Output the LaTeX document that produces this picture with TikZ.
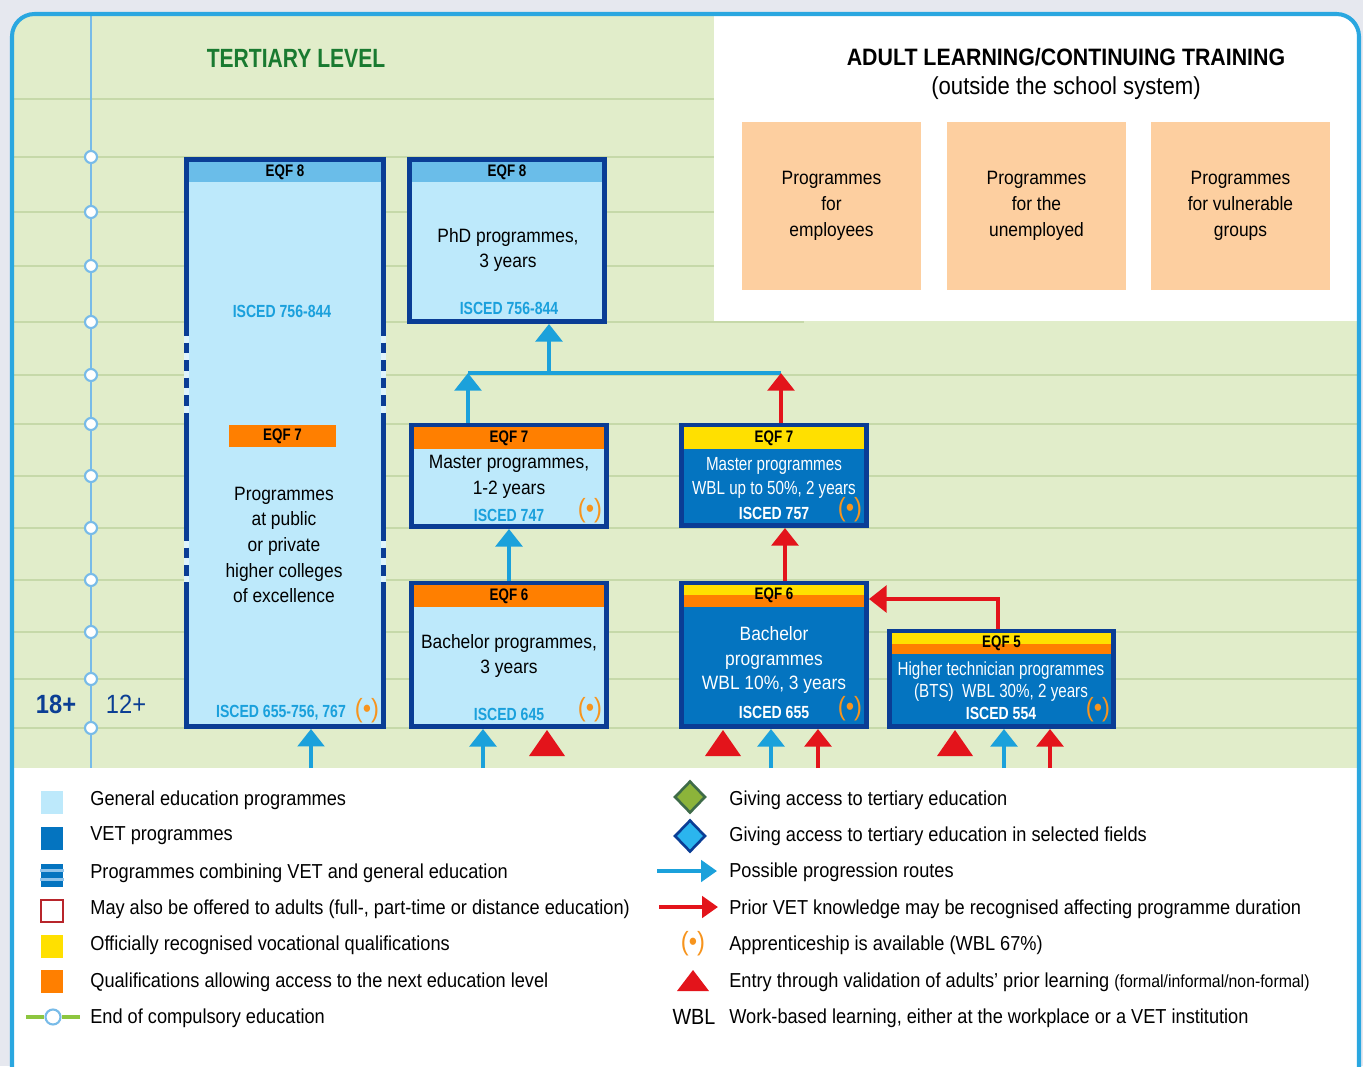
\documentclass[tikz,border=0pt]{standalone}
\usepackage{fontspec}
\setmainfont{Liberation Sans}[FakeStretch=0.9]
\newfontfamily\condfont{Liberation Sans}[FakeStretch=0.8]
\usetikzlibrary{arrows.meta}
\usetikzlibrary{shapes.geometric}
\definecolor{pagegray}{HTML}{E6E8EF}
\definecolor{framecyan}{HTML}{2AA7E0}
\definecolor{levelgreen}{HTML}{E1EDCA}
\definecolor{ruleline}{HTML}{C6D9A9}
\definecolor{axisblue}{HTML}{78BBE8}
\definecolor{edgeblue}{HTML}{0A3D95}
\definecolor{genlight}{HTML}{BDE9FB}
\definecolor{genband}{HTML}{6ABDE9}
\definecolor{vetblue}{HTML}{0474C0}
\definecolor{eqforange}{HTML}{FF7F00}
\definecolor{eqfyellow}{HTML}{FFE000}
\definecolor{iscedcyan}{HTML}{1AA0DC}
\definecolor{routeblue}{HTML}{1BA1DB}
\definecolor{priorred}{HTML}{E3141B}
\definecolor{approrange}{HTML}{F7941D}
\definecolor{adultpeach}{HTML}{FDCFA0}
\definecolor{titlegreen}{HTML}{197A30}
\definecolor{agenavy}{HTML}{0B3E94}
\definecolor{outlinered}{HTML}{B8252B}
\definecolor{accgreen}{HTML}{8CB43A}
\definecolor{accgreenedge}{HTML}{3E6B48}
\definecolor{selcyan}{HTML}{2BB5EE}
\definecolor{endgreen}{HTML}{8DC63F}
\definecolor{stripelight}{HTML}{8FC3EA}
\tikzstyle{prog}=[draw=edgeblue, line width=2.8pt, inner sep=0pt]
\tikzstyle{genprog}=[prog, fill=genlight]
\tikzstyle{vetprog}=[prog, fill=vetblue]
\tikzstyle{band}=[inner sep=0pt, outer sep=0pt, minimum height=0.4cm]
\tikzstyle{eqf}=[inner sep=0pt, font={\condfont\bfseries\fontsize{9.5}{10}\selectfont}]
\tikzstyle{isced}=[inner sep=0pt, text=iscedcyan, font={\condfont\bfseries\fontsize{10}{11}\selectfont}]
\tikzstyle{body}=[inner sep=0pt, align=center, font={\fontsize{11}{14.6}\selectfont}]
\tikzstyle{vetbody}=[body, text=white, font={\condfont\fontsize{10.8}{13.4}\selectfont}]
\tikzstyle{appr}=[inner sep=0pt, text=approrange, font={\fontsize{15}{15}\selectfont}]
\tikzstyle{adult}=[fill=adultpeach, minimum width=3.58cm, minimum height=3.36cm, align=center, font={\fontsize{11}{14.6}\selectfont}]
\tikzstyle{flow}=[->, >={Triangle[length=10pt, width=15pt]}, line width=2.8pt]
\tikzstyle{route}=[flow, routeblue]
\tikzstyle{prior}=[flow, priorred]
\tikzstyle{agemark}=[circle, draw=axisblue, fill=white, line width=1.2pt, minimum size=0.24cm, inner sep=0pt]
\tikzstyle{legsq}=[minimum size=0.46cm, inner sep=0pt]
\tikzstyle{legtext}=[anchor=west, inner sep=0pt, font={\fontsize{11.5}{13}\selectfont}]
\tikzstyle{legdia}=[diamond, minimum width=0.62cm, minimum height=0.64cm, inner sep=0pt, line width=1.5pt]
\tikzstyle{legflow}=[->, >={Triangle[length=9pt, width=12pt]}, line width=2.8pt]

\begin{document}
\begin{tikzpicture}[x=0.02cm, y=-0.02cm]

    \useasboundingbox (0,0) rectangle (1363,1066);
    \fill[pagegray] (0,0) rectangle (1363,1066);
    \fill[white, rounded corners=0.45cm] (12,14) rectangle (1359,1090);

    % background bands
    \begin{scope}
        \clip[rounded corners=0.45cm] (12,14) rectangle (1359,1090);
        \fill[levelgreen] (12,14) rectangle (1359,768);
        \fill[white] (714,14) rectangle (1359,321);
        \foreach \y in {99,157,212,266} \draw[ruleline, line width=1.1pt] (12,\y) -- (714,\y);
        \draw[ruleline, line width=1.1pt] (12,322) -- (804,322);
        \foreach \y in {375,424,476,528,580,632,679,728} \draw[ruleline, line width=1.1pt] (12,\y) -- (1359,\y);
    \end{scope}

    % age axis
    \coordinate (axtop) at (91,14);
    \coordinate (axbot) at (91,768);
    \draw[axisblue, line width=1.2pt] (axtop) -- (axbot);
    \foreach \y [count=\i] in {157,212,266,322,375,424,476,528,580,632,679,728}
        \node[agemark] (age\i) at (91,\y) {};
    \node[text=agenavy, font={\bfseries\fontsize{15}{16}\selectfont}] (age18) at (56,704) {18+};
    \node[text=agenavy, font={\fontsize{15}{16}\selectfont}] (age12) at (126,704) {12+};

    \draw[framecyan, line width=2.3pt, rounded corners=0.45cm] (12,14) rectangle (1359,1090);

    \node[text=titlegreen, font={\condfont\bfseries\fontsize{15}{16}\selectfont}] (tertiary) at (296,58) {TERTIARY LEVEL};
    \node[font={\bfseries\fontsize{13.5}{15}\selectfont}] (adulttitle) at (1066,57) {ADULT LEARNING/CONTINUING TRAINING};
    \node[font={\fontsize{14}{15}\selectfont}] (adultsub) at (1066,88) {(outside the school system)};

    \node[adult] (employees) at (831.5,206) {Programmes\\for\\employees};
    \node[adult] (unemployed) at (1036.5,206) {Programmes\\for the\\unemployed};
    \node[adult] (vulnerable) at (1240.5,206) {Programmes\\for vulnerable\\groups};

    % higher colleges
    \node[genprog, minimum width=3.94cm, minimum height=11.34cm] (colleges) at (285,443) {};
    \foreach \x in {186.5,383.5} {
        \draw[genlight!50!white, line width=2.8pt] (\x,325) -- (\x,420) (\x,530) -- (\x,582);
        \draw[edgeblue, line width=2.8pt, dash pattern=on 6pt off 4pt] (\x,325) -- (\x,420) (\x,530) -- (\x,582);
    }
    \node[band, fill=genband, minimum width=3.84cm, eqf] (collegeseqf) at (285,172) {EQF 8};
    \node[isced] (collegesisced8) at (282,311) {ISCED 756-844};
    \node[band, fill=eqforange, minimum width=2.14cm, minimum height=0.44cm, eqf] (collegeseqf7) at (282.5,436) {EQF 7};
    \node[body] (collegestext) at (284,545) {Programmes\\at public\\or private\\higher colleges\\of excellence};
    \node[isced] (collegesisced) at (281,713) {ISCED 655-756, 767};
    \node[appr] (collegesappr) at (367,711) {(\textbullet)};

    % phd
    \node[genprog, minimum width=3.9cm, minimum height=3.24cm] (phd) at (507,240.5) {};
    \node[band, fill=genband, minimum width=3.8cm, eqf] (phdeqf) at (507,172) {EQF 8};
    \node[body] (phdtext) at (508,250) {PhD programmes,\\3 years};
    \node[isced] (phdisced) at (509,308) {ISCED 756-844};

    % master
    \node[genprog, minimum width=3.9cm, minimum height=2.02cm] (master) at (509,476) {};
    \node[band, fill=eqforange, minimum width=3.8cm, minimum height=0.44cm, eqf] (mastereqf) at (509,438) {EQF 7};
    \node[body] (mastertext) at (509,477) {Master programmes,\\1-2 years};
    \node[isced] (masterisced) at (509,515) {ISCED 747};
    \node[appr] (masterappr) at (590,511) {(\textbullet)};

    % bachelor
    \node[genprog, minimum width=3.9cm, minimum height=2.86cm] (bachelor) at (509,655) {};
    \node[band, fill=eqforange, minimum width=3.8cm, minimum height=0.44cm, eqf] (bachelureqf) at (509,596) {EQF 6};
    \node[body] (bachelortext) at (509,656) {Bachelor programmes,\\3 years};
    \node[isced] (bachelorisced) at (509,714) {ISCED 645};
    \node[appr] (bachelorappr) at (590,710) {(\textbullet)};

    % wbl master
    \node[vetprog, minimum width=3.7cm, minimum height=2.0cm] (wblmaster) at (774,475.5) {};
    \node[band, fill=eqfyellow, minimum width=3.6cm, minimum height=0.44cm, eqf] (wblmastereqf) at (774,438) {EQF 7};
    \node[vetbody] (wblmastertext) at (774,478) {Master programmes\\WBL up to 50\%, 2 years};
    \node[isced, text=white] (wblmasterisced) at (774,513) {ISCED 757};
    \node[appr] (wblmasterappr) at (850,510) {(\textbullet)};

    % wbl bachelor
    \node[vetprog, minimum width=3.7cm, minimum height=2.86cm] (wblbachelor) at (774,655) {};
    \node[band, fill=eqfyellow, minimum width=3.6cm, minimum height=0.2cm] (wblbacheloryellow) at (774,590) {};
    \node[band, fill=eqforange, minimum width=3.6cm, minimum height=0.24cm] (wblbachelororange) at (774,601) {};
    \node[eqf] (wblbachelureqf) at (774,595) {EQF 6};
    \node[body, text=white, font={\fontsize{11}{13.9}\selectfont}] (wblbachelortext) at (774,660) {Bachelor\\programmes\\WBL 10\%, 3 years};
    \node[isced, text=white] (wblbachelorisced) at (774,712) {ISCED 655};
    \node[appr] (wblbachelorappr) at (850,709) {(\textbullet)};

    % bts
    \node[vetprog, minimum width=4.48cm, minimum height=1.9cm] (bts) at (1001.5,679) {};
    \node[band, fill=eqfyellow, minimum width=4.38cm, minimum height=0.22cm] (btsyellow) at (1001.5,638.5) {};
    \node[band, fill=eqforange, minimum width=4.38cm, minimum height=0.2cm] (btsorange) at (1001.5,649) {};
    \node[eqf] (btseqf) at (1001.5,643) {EQF 5};
    \node[vetbody, font={\condfont\fontsize{10.8}{12.5}\selectfont}] (btstext) at (1001,682) {Higher technician programmes\\(BTS)\ \ WBL 30\%, 2 years};
    \node[isced, text=white] (btsisced) at (1001,713) {ISCED 554};
    \node[appr] (btsappr) at (1098,710) {(\textbullet)};

    % progression routes
    \coordinate (incolleges) at (311,768);
    \coordinate (inbachelor) at (483,768);
    \coordinate (inwblblue) at (771,768);
    \coordinate (inwblred) at (818,768);
    \coordinate (inbtsblue) at (1004,768);
    \coordinate (inbtsred) at (1050,768);
    \draw[route] (incolleges) -- (incolleges |- colleges.south);
    \draw[route] (inbachelor) -- (inbachelor |- bachelor.south);
    \draw[route] (inwblblue) -- (inwblblue |- wblbachelor.south);
    \draw[prior] (inwblred) -- (inwblred |- wblbachelor.south);
    \draw[route] (inbtsblue) -- (inbtsblue |- bts.south);
    \draw[prior] (inbtsred) -- (inbtsred |- bts.south);

    \draw[route] (bachelor.north) -- (master.south);

    \coordinate (barleft) at (468,373);
    \coordinate (barright) at (781,373);
    \coordinate (barmid) at (549,373);
    \draw[routeblue, line width=2.8pt] (barleft) -- (barright);
    \draw[route] (barleft |- master.north) -- (barleft);
    \draw[prior] (barright |- wblmaster.north) -- (barright);
    \draw[route] (barmid) -- (barmid |- phd.south);

    \coordinate (wblup) at (785,555);
    \draw[prior] (wblup |- wblbachelor.north) -- (wblup |- wblmaster.south);
    \coordinate (btsturn) at (998,599);
    \draw[prior] (btsturn |- bts.north) -- (btsturn) -- (btsturn -| wblbachelor.east);

    % validation of prior learning
    \foreach \x in {547,723,955}
        \fill[priorred] (\x-18,756) -- (\x+18,756) -- (\x,730) -- cycle;

    % legend, left
    \node[legsq, fill=genlight] (keygen) at (52,802) {};
    \node[legsq, fill=vetblue] (keyvet) at (52,838) {};
    \node[legsq, fill=vetblue] (keycomb) at (52,875) {};
    \draw[stripelight, line width=1.7pt] ([yshift=0.1cm]keycomb.west) -- ([yshift=0.1cm]keycomb.east);
    \draw[stripelight, line width=1.7pt] ([yshift=-0.09cm]keycomb.west) -- ([yshift=-0.09cm]keycomb.east);
    \node[legsq, minimum size=0.44cm, draw=outlinered, line width=1.2pt, fill=white] (keyadult) at (52,911) {};
    \node[legsq, fill=eqfyellow] (keyqual) at (52,946) {};
    \node[legsq, fill=eqforange] (keynext) at (52,981) {};
    \node[agemark, minimum size=0.3cm] (keyend) at (53,1017) {};
    \draw[endgreen, line width=2.8pt] (keyend.west) -- ++(-18,0);
    \draw[endgreen, line width=2.8pt] (keyend.east) -- ++(18,0);

    \node[legtext] (txtgen) at (90,800) {General education programmes};
    \node[legtext] (txtvet) at (90,836) {VET programmes};
    \node[legtext] (txtcomb) at (90,873) {Programmes combining VET and general education};
    \node[legtext] (txtadult) at (90,909) {May also be offered to adults (full-, part-time or distance education)};
    \node[legtext] (txtqual) at (90,945) {Officially recognised vocational qualifications};
    \node[legtext] (txtnext) at (90,982) {Qualifications allowing access to the next education level};
    \node[legtext] (txtend) at (90,1018) {End of compulsory education};

    % legend, right
    \node[legdia, fill=accgreen, draw=accgreenedge] (keyacc) at (690,797) {};
    \node[legdia, fill=selcyan, draw=edgeblue] (keysel) at (690,836) {};
    \coordinate (keyroute) at (657,871);
    \draw[legflow, routeblue] (keyroute) -- ++(60,0);
    \coordinate (keyprior) at (659,907);
    \draw[legflow, priorred] (keyprior) -- ++(59,0);
    \node[appr] (keyappr) at (693,944) {(\textbullet)};
    \fill[priorred] (677,991) -- (709,991) -- (693,970) -- cycle;
    \node[font={\fontsize{12.5}{13}\selectfont}] (keywbl) at (694,1017) {WBL};

    \node[legtext] (txtacc) at (729,800) {Giving access to tertiary education};
    \node[legtext] (txtsel) at (729,836) {Giving access to tertiary education in selected fields};
    \node[legtext] (txtroute) at (729,872) {Possible progression routes};
    \node[legtext] (txtprior) at (729,909) {Prior VET knowledge may be recognised affecting programme duration};
    \node[legtext] (txtappr) at (729,945) {Apprenticeship is available (WBL 67\%)};
    \node[legtext] (txtentry) at (729,982) {Entry through validation of adults' prior learning {\fontsize{10}{11}\selectfont(formal/informal/non-formal)}};
    \node[legtext] (txtwbl) at (729,1018) {Work-based learning, either at the workplace or a VET institution};

\end{tikzpicture}
\end{document}
